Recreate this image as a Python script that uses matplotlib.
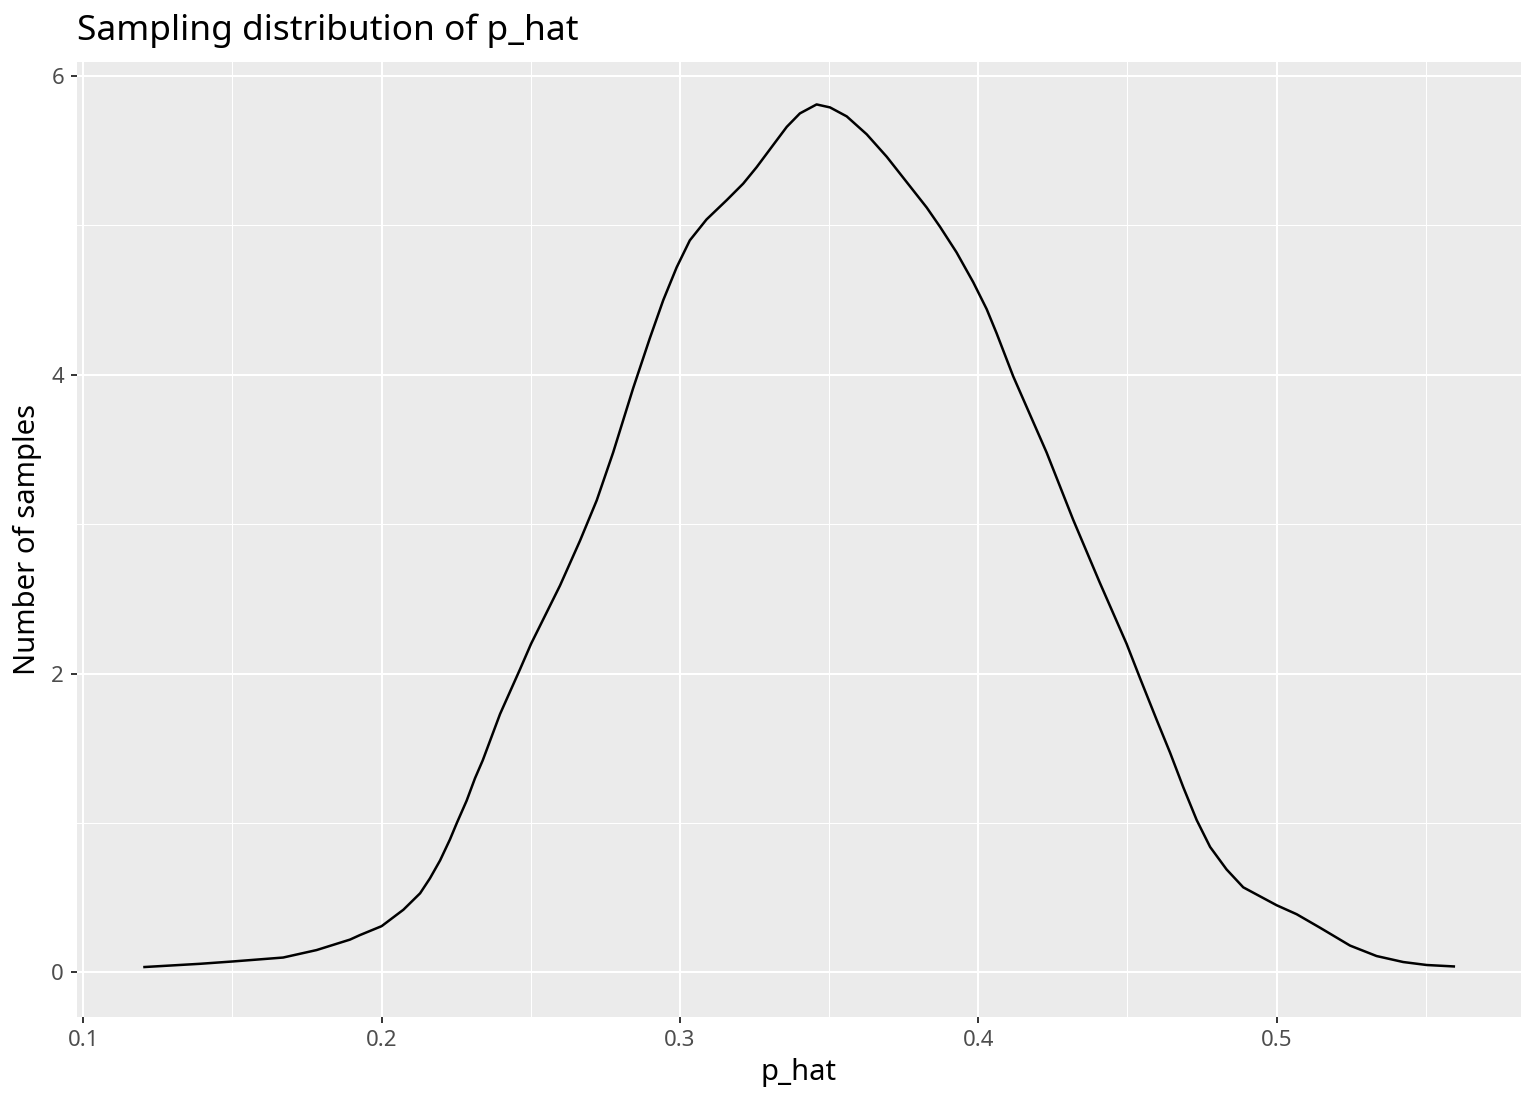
import numpy as np
import matplotlib
matplotlib.use("Agg")
import matplotlib.pyplot as plt
from matplotlib.ticker import MultipleLocator

plt.rcParams['font.family'] = ['Noto Sans', 'DejaVu Sans']

# density curve
p_hat = [0.1201, 0.1391, 0.1503, 0.1670, 0.1782, 0.1894, 0.1927, 0.2000,
         0.2073, 0.2129, 0.2162, 0.2196, 0.2229, 0.2252, 0.2285, 0.2313,
         0.2339, 0.2397, 0.2464, 0.2501, 0.2598, 0.2665, 0.2721, 0.2776,
         0.2843, 0.2899, 0.2944, 0.2989, 0.3033, 0.3089, 0.3157, 0.3212,
         0.3257, 0.3313, 0.3358, 0.3402, 0.3458, 0.3503, 0.3559, 0.3626,
         0.3693, 0.3760, 0.3827, 0.3872, 0.3927, 0.3983, 0.4028, 0.4061,
         0.4117, 0.4229, 0.4318, 0.4407, 0.4497, 0.4542, 0.4598, 0.4643,
         0.4687, 0.4732, 0.4777, 0.4832, 0.4888, 0.4944, 0.5000, 0.5067,
         0.5145, 0.5246, 0.5335, 0.5424, 0.5503, 0.5598]
density = [0.036, 0.058, 0.074, 0.10, 0.15, 0.22, 0.25, 0.31,
           0.42, 0.53, 0.63, 0.75, 0.89, 1.00, 1.15, 1.30,
           1.42, 1.73, 2.03, 2.20, 2.59, 2.89, 3.16, 3.48,
           3.91, 4.245, 4.50, 4.72, 4.90, 5.04, 5.17, 5.28,
           5.39, 5.54, 5.66, 5.75, 5.81, 5.79, 5.73, 5.61,
           5.46, 5.29, 5.12, 4.99, 4.82, 4.62, 4.44, 4.28,
           3.99, 3.48, 3.03, 2.61, 2.20, 1.97, 1.69, 1.47,
           1.24, 1.02, 0.84, 0.69, 0.57, 0.51, 0.45, 0.39,
           0.30, 0.18, 0.11, 0.07, 0.05, 0.04]

x_ticks = [0.1, 0.2, 0.3, 0.4, 0.5]
y_ticks = [0, 2, 4, 6]

fig = plt.figure(figsize=(15.36, 11.04), dpi=100)
ax = fig.add_axes([77 / 1536, 87 / 1104, 1444 / 1536, 955 / 1104])

ax.set_facecolor('#EBEBEB')
for s in ax.spines.values():
    s.set_visible(False)

ax.plot(p_hat, density, color='black', lw=1.8, solid_joinstyle='round',
        solid_capstyle='butt', zorder=3)

ax.set_xlim(0.0979, 0.5819)
ax.set_ylim(-0.298, 6.094)
ax.set_xticks(x_ticks)
ax.set_xticklabels([str(v) for v in x_ticks])
ax.set_yticks(y_ticks)
ax.set_yticklabels([str(v) for v in y_ticks])
ax.xaxis.set_minor_locator(MultipleLocator(0.05))
ax.yaxis.set_minor_locator(MultipleLocator(1))

ax.grid(which='major', color='white', lw=1.5)
ax.grid(which='minor', color='white', lw=0.75)
ax.set_axisbelow(True)

ax.tick_params(which='major', length=4.3, width=1.4, color='#333333',
               labelsize=16, labelcolor='#4D4D4D', pad=5)
ax.tick_params(which='minor', length=0)

ax.set_xlabel('p_hat', fontsize=21, labelpad=5)
ax.set_ylabel('Number of samples', fontsize=21, labelpad=7)

fig.text(77 / 1536, 1 - 40 / 1104, 'Sampling distribution of p_hat',
         fontsize=25.4, ha='left', va='baseline')

fig.savefig('out.png', dpi=100)
